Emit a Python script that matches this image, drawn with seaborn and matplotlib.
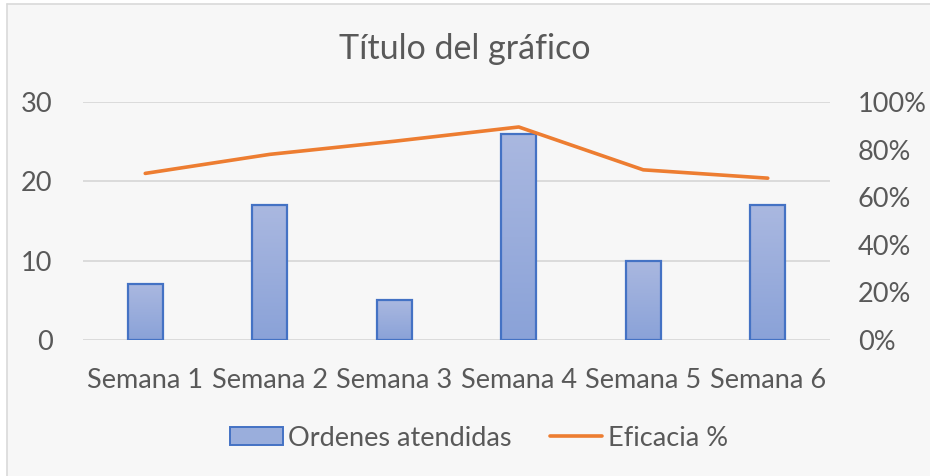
import numpy as np
import pandas as pd
import matplotlib
matplotlib.use("Agg")
import matplotlib.pyplot as plt
import matplotlib.patches as mpatches
from matplotlib.lines import Line2D
import seaborn as sns

semanas = ["Semana 1", "Semana 2", "Semana 3", "Semana 4", "Semana 5", "Semana 6"]
ordenes = [7, 17, 5, 26, 10, 17]
eficacia = [0.70, 0.78, 0.835, 0.895, 0.715, 0.68]
left_ticks = [0, 10, 20, 30]
right_ticks = [0, 0.2, 0.4, 0.6, 0.8, 1.0]
right_labels = ["0%", "20%", "40%", "60%", "80%", "100%"]
title = "Título del gráfico"
bar_label = "Ordenes atendidas"
line_label = "Eficacia %"

sns.set_theme(style="white")
plt.rcParams["font.family"] = ["Lato", "DejaVu Sans"]

W, H = 930, 476
fig = plt.figure(figsize=(W / 100, H / 100), dpi=100, facecolor="white")

# chart area background and border (left/top visible)
bg = mpatches.Rectangle((7 / W, 0), 1 - 7 / W, 1 - 4 / H, transform=fig.transFigure,
                        facecolor="#f7f7f7", edgecolor="none", zorder=-10)
fig.patches.append(bg)
fig.lines.append(Line2D([7 / W, 7 / W], [0, 1 - 4 / H], transform=fig.transFigure,
                        color="#d9d9d9", lw=1.2))
fig.lines.append(Line2D([7 / W, 1], [1 - 4 / H, 1 - 4 / H], transform=fig.transFigure,
                        color="#d9d9d9", lw=1.2))

x0, x1 = 83, 830
y0, y1 = 340, 102
ax = fig.add_axes([x0 / W, 1 - y0 / H, (x1 - x0) / W, (y0 - y1) / H])
ax.set_facecolor("none")

df = pd.DataFrame({"Semana": semanas, "Ordenes": ordenes, "Eficacia": eficacia})

sns.barplot(data=df, x="Semana", y="Ordenes", ax=ax, width=0.28,
            color="#9aaedc", edgecolor="#4472C4", linewidth=1.6, zorder=3)

# gradient fill for the bars
grad = np.linspace(0, 1, 256).reshape(-1, 1)
cmap = matplotlib.colors.LinearSegmentedColormap.from_list("g", ["#8aa2d8", "#aab8e0"])
for p in ax.patches:
    bx, by = p.get_x(), p.get_y()
    bw, bh = p.get_width(), p.get_height()
    im = ax.imshow(grad, extent=[bx, bx + bw, by, by + bh], origin="lower",
                   cmap=cmap, aspect="auto", zorder=2.5)
    im.set_clip_path(p)
    p.set_facecolor("none")

FS = 19.5
ax.set_ylim(0, 30)
ax.set_xlim(-0.5, 5.5)
ax.set_yticks(left_ticks)
ax.yaxis.grid(True, color="#d9d9d9", lw=1.3, zorder=0)
ax.set_axisbelow(True)
for s in ax.spines.values():
    s.set_visible(False)
ax.tick_params(axis="both", length=0, labelsize=FS, colors="#595959")
ax.tick_params(axis="y", pad=22)
ax.tick_params(axis="x", pad=20)
ax.set_xlabel("")
ax.set_ylabel("")

ax2 = ax.twinx()
sns.lineplot(data=df, x="Semana", y="Eficacia", ax=ax2, color="#ED7D31",
             linewidth=2.6, zorder=5, legend=False)
ax2.set_ylim(0, 1.0)
ax2.set_yticks(right_ticks)
ax2.set_yticklabels(right_labels)
ax2.set_xlim(-0.5, 5.5)
for s in ax2.spines.values():
    s.set_visible(False)
ax2.tick_params(axis="y", length=0, labelsize=FS, colors="#595959", pad=20)
ax2.set_ylabel("")
ax2.grid(False)

fig.text(0.5, 1 - 49 / H, title, ha="center", va="center", fontsize=24.5, color="#595959")

handles = [
    mpatches.Patch(facecolor="#9aaedc", edgecolor="#4472C4", linewidth=1.4, label=bar_label),
    Line2D([0], [0], color="#ED7D31", lw=2.6, label=line_label),
]
fig.legend(handles=handles, loc="center", bbox_to_anchor=(479 / W, 1 - 438 / H), ncol=2,
           frameon=False, fontsize=FS, labelcolor="#595959", handlelength=1.95,
           handletextpad=0.2, columnspacing=1.4, handleheight=0.6)

fig.savefig("out.png", dpi=100, facecolor="white")
